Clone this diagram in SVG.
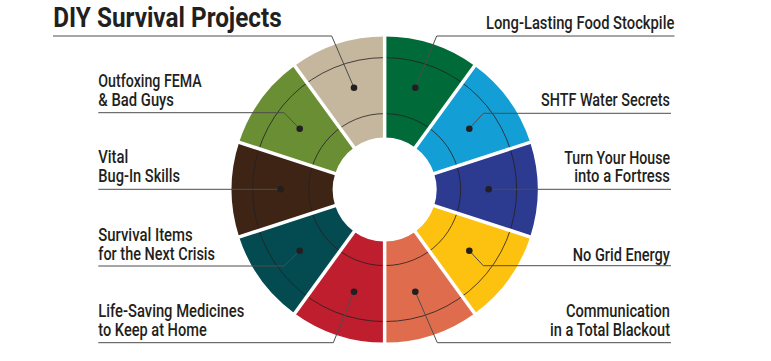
<svg xmlns="http://www.w3.org/2000/svg" width="771" height="361" viewBox="0 0 771 361">
<style>
.lbl{font-family:Roboto,"Liberation Sans",sans-serif;font-weight:500;font-size:17.5px;fill:#231f20}
.r{text-anchor:end}
.title{font-family:Roboto,"Liberation Sans",sans-serif;font-weight:700;font-size:27.3px;fill:#231f20}
.lead{fill:none;stroke:#4d4d4d;stroke-width:1}
.dot{fill:#231f20}
.ring{fill:none;stroke:#231f20;stroke-width:0.8}
.gap{stroke:#fff;stroke-width:3.5}
</style>
<rect width="771" height="361" fill="#fff"/>
<text class="title" x="53.3" y="26.7" textLength="228.4" lengthAdjust="spacingAndGlyphs">DIY Survival Projects</text>
<g id="segments">
<path id="seg-green" fill="#006a39" d="M384.65,36.6 A153,153 0 0 1 474.58,65.82 L415.21,147.53 A52,52 0 0 0 384.65,137.6 Z"/>
<path id="seg-blue" fill="#139fd5" d="M474.58,65.82 A153,153 0 0 1 530.16,142.32 L434.10,173.53 A52,52 0 0 0 415.21,147.53 Z"/>
<path id="seg-navy" fill="#2c3a90" d="M530.16,142.32 A153,153 0 0 1 530.16,236.88 L434.10,205.67 A52,52 0 0 0 434.10,173.53 Z"/>
<path id="seg-yellow" fill="#fdc20f" d="M530.16,236.88 A153,153 0 0 1 474.58,313.38 L415.21,231.67 A52,52 0 0 0 434.10,205.67 Z"/>
<path id="seg-orange" fill="#df6d4d" d="M474.58,313.38 A153,153 0 0 1 384.65,342.6 L384.65,241.6 A52,52 0 0 0 415.21,231.67 Z"/>
<path id="seg-red" fill="#bf1e2e" d="M384.65,342.6 A153,153 0 0 1 294.72,313.38 L354.09,231.67 A52,52 0 0 0 384.65,241.6 Z"/>
<path id="seg-teal" fill="#034b50" d="M294.72,313.38 A153,153 0 0 1 239.14,236.88 L335.20,205.67 A52,52 0 0 0 354.09,231.67 Z"/>
<path id="seg-brown" fill="#3e2415" d="M239.14,236.88 A153,153 0 0 1 239.14,142.32 L335.20,173.53 A52,52 0 0 0 335.20,205.67 Z"/>
<path id="seg-olive" fill="#6a8e34" d="M239.14,142.32 A153,153 0 0 1 294.72,65.82 L354.09,147.53 A52,52 0 0 0 335.20,173.53 Z"/>
<path id="seg-tan" fill="#c5b79d" d="M294.72,65.82 A153,153 0 0 1 384.65,36.6 L384.65,137.6 A52,52 0 0 0 354.09,147.53 Z"/>
</g>
<g id="rings">
<circle class="ring" cx="384.65" cy="189.6" r="76"/>
<circle class="ring" cx="384.65" cy="189.6" r="132"/>
</g>
<g id="gaps">
<line class="gap" x1="384.65" y1="140" x2="384.65" y2="30"/>
<line class="gap" x1="413.8" y1="149.5" x2="478.3" y2="60.7"/>
<line class="gap" x1="431.7" y1="174.3" x2="536.1" y2="140.4"/>
<line class="gap" x1="431.7" y1="204.9" x2="536.1" y2="238.8"/>
<line class="gap" x1="413.8" y1="229.7" x2="478.3" y2="318.5"/>
<line class="gap" x1="384.65" y1="239.2" x2="384.65" y2="349"/>
<line class="gap" x1="355.5" y1="229.7" x2="291.0" y2="318.5"/>
<line class="gap" x1="337.6" y1="204.9" x2="233.2" y2="238.8"/>
<line class="gap" x1="337.6" y1="174.3" x2="233.2" y2="140.4"/>
<line class="gap" x1="355.5" y1="149.5" x2="291.0" y2="60.7"/>
</g>
<g id="connectors">
<polyline class="lead" points="354,87.7 331.7,36 53,36"/>
<polyline class="lead" points="415.3,87.7 436.7,36 674.5,36"/>
<polyline class="lead" points="469.3,128.7 483.3,113.3 671,113.3"/>
<polyline class="lead" points="488.7,189.3 671,189.3"/>
<polyline class="lead" points="469.3,250.7 483.3,265.7 671,265.7"/>
<polyline class="lead" points="415.3,291.7 437.3,342.7 671,342.7"/>
<polyline class="lead" points="354,291.7 333.3,342.7 98.3,342.7"/>
<polyline class="lead" points="299.7,250.7 284,266 98.3,266"/>
<polyline class="lead" points="280.7,189.3 98.3,189.3"/>
<polyline class="lead" points="299.7,128.7 284,112.7 98.3,112.7"/>
</g>
<g id="dots">
<circle class="dot" cx="354" cy="87.7" r="3.3"/>
<circle class="dot" cx="415.3" cy="87.7" r="3.3"/>
<circle class="dot" cx="469.3" cy="128.7" r="3.3"/>
<circle class="dot" cx="488.7" cy="189.3" r="3.3"/>
<circle class="dot" cx="469.3" cy="250.7" r="3.3"/>
<circle class="dot" cx="415.3" cy="291.7" r="3.3"/>
<circle class="dot" cx="354" cy="291.7" r="3.3"/>
<circle class="dot" cx="299.7" cy="250.7" r="3.3"/>
<circle class="dot" cx="280.7" cy="189.3" r="3.3"/>
<circle class="dot" cx="299.7" cy="128.7" r="3.3"/>
</g>
<g id="label-food"><text class="lbl r" x="674.3" y="29.3" textLength="188.3" lengthAdjust="spacingAndGlyphs">Long-Lasting Food Stockpile</text></g>
<g id="label-water"><text class="lbl r" x="670" y="106" textLength="129" lengthAdjust="spacingAndGlyphs">SHTF Water Secrets</text></g>
<g id="label-fortress">
<text class="lbl r" x="670" y="164" textLength="105.7" lengthAdjust="spacingAndGlyphs">Turn Your House</text>
<text class="lbl r" x="670" y="182.3" textLength="95.7" lengthAdjust="spacingAndGlyphs">into a Fortress</text>
</g>
<g id="label-energy"><text class="lbl r" x="670" y="260.7" textLength="97.3" lengthAdjust="spacingAndGlyphs">No Grid Energy</text></g>
<g id="label-comm">
<text class="lbl r" x="670" y="317.3" textLength="104" lengthAdjust="spacingAndGlyphs">Communication</text>
<text class="lbl r" x="670" y="335.7" textLength="120" lengthAdjust="spacingAndGlyphs">in a Total Blackout</text>
</g>
<g id="label-fema">
<text class="lbl" x="98.3" y="87.3" textLength="103.4" lengthAdjust="spacingAndGlyphs">Outfoxing FEMA</text>
<text class="lbl" x="98.3" y="105.7" textLength="75.7" lengthAdjust="spacingAndGlyphs">&amp; Bad Guys</text>
</g>
<g id="label-bugin">
<text class="lbl" x="98.3" y="163.4" textLength="30" lengthAdjust="spacingAndGlyphs">Vital</text>
<text class="lbl" x="98.3" y="181.7" textLength="81.7" lengthAdjust="spacingAndGlyphs">Bug-In Skills</text>
</g>
<g id="label-items">
<text class="lbl" x="98.3" y="240.7" textLength="94.4" lengthAdjust="spacingAndGlyphs">Survival Items</text>
<text class="lbl" x="98.3" y="260" textLength="116.7" lengthAdjust="spacingAndGlyphs">for the Next Crisis</text>
</g>
<g id="label-medicine">
<text class="lbl" x="98.3" y="317.3" textLength="146" lengthAdjust="spacingAndGlyphs">Life-Saving Medicines</text>
<text class="lbl" x="98.3" y="336" textLength="108.4" lengthAdjust="spacingAndGlyphs">to Keep at Home</text>
</g>
</svg>
